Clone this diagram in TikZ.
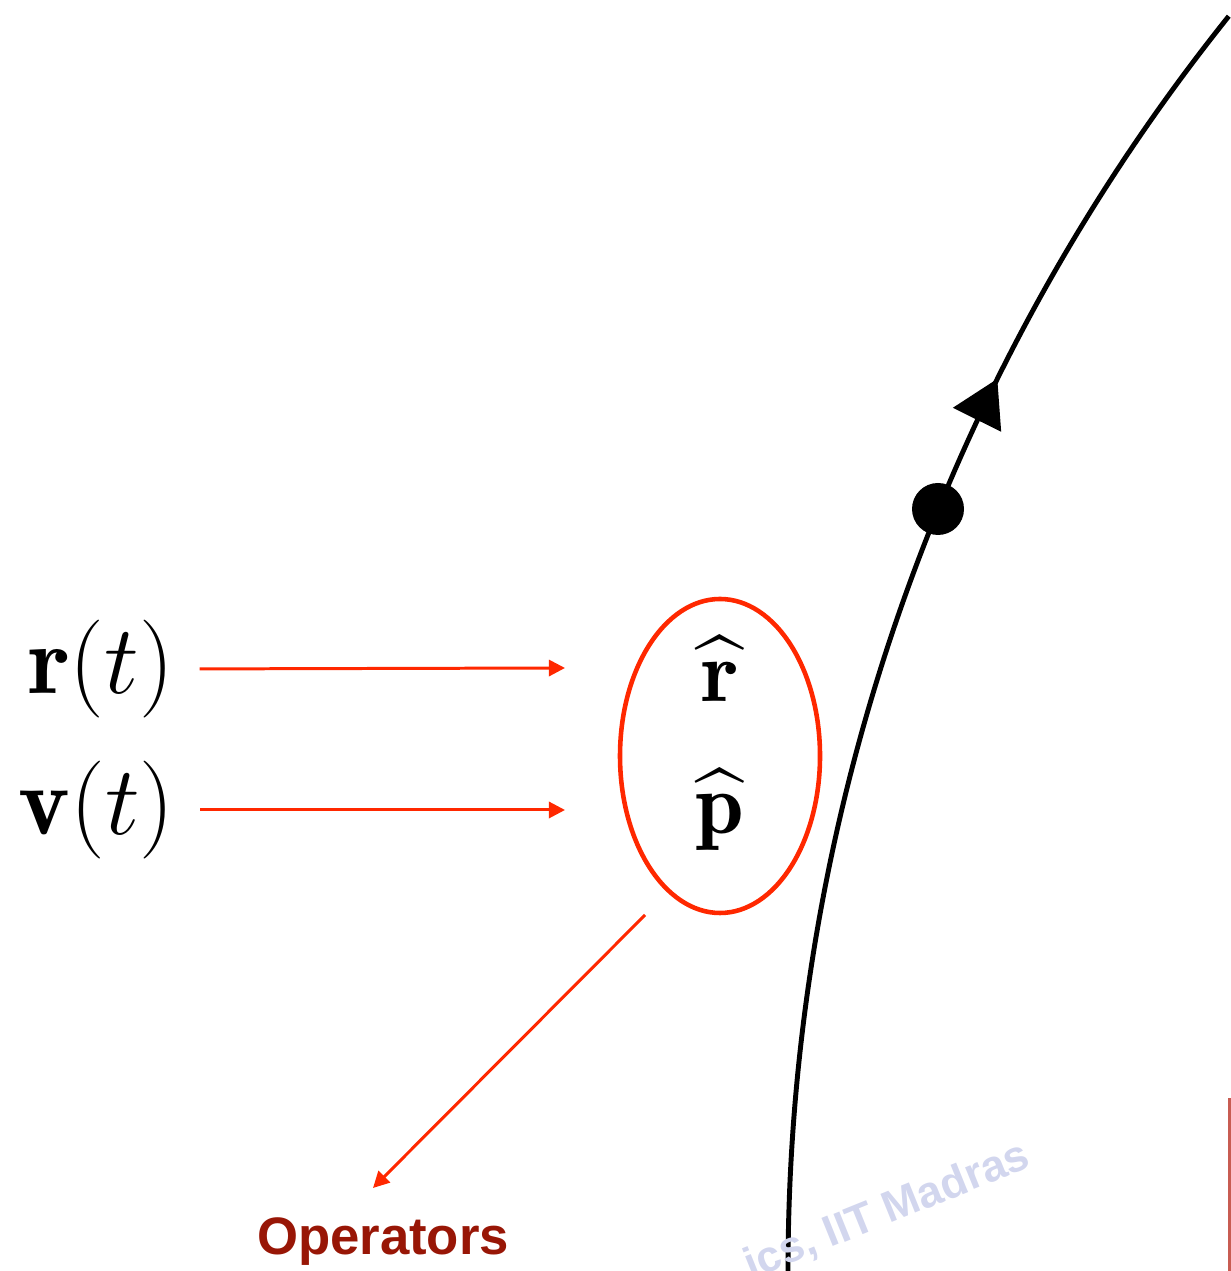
\documentclass[tikz,border=0pt]{standalone}
\usepackage{amsmath,amssymb}
\usepackage{fontspec}
\newfontfamily\labelfont{Liberation Sans}
\usepackage{tikz}
\usetikzlibrary{arrows.meta,positioning,calc,decorations.markings,shapes.geometric}
\definecolor{opred}{RGB}{255,40,0}
\definecolor{oplabel}{RGB}{152,22,6}
\definecolor{wmark}{RGB}{210,214,238}
\definecolor{edgered}{RGB}{200,92,82}
\tikzset{
  maparrow/.style={-{Triangle[length=4.6pt,width=4.6pt]},draw=opred,line width=0.85pt},
  traj/.style={line width=1.4pt,postaction={decorate},decoration={markings,
    mark=at position 0.682 with {\arrow{Triangle[length=13pt,width=15pt]}}}},
  bigmath/.style={inner sep=0pt,font=\Huge,scale=1.12},
  hatmath/.style={inner sep=0pt,font=\Huge},
}
\begin{document}
\begin{tikzpicture}
\clip (0,0) rectangle (12.31,12.71);
\draw[traj] (7.88,0) arc (180:141.3:20.07);
\fill (9.38,7.62) circle (0.26);
\node[bigmath] (rt) at (1.01,6.02) {$\mathbf{r}(t)$};
\node[bigmath] (vt) at (0.965,4.61) {$\mathbf{v}(t)$};
\node[draw=opred,line width=1.3pt,ellipse,minimum width=2.0cm,minimum height=3.14cm] (ops) at (7.20,5.15) {};
\node[hatmath] (rhat) at (7.20,6.02) {$\widehat{\mathbf{r}}$};
\node[hatmath] (phat) at (7.20,4.61) {$\widehat{\mathbf{p}}$};
\coordinate (rin) at (5.65,6.03);
\coordinate (vin) at (5.65,4.61);
\coordinate (opfoot) at (6.45,3.56);
\coordinate (optip) at (3.73,0.83);
\draw[maparrow,shorten <=0.25cm] (rt.east) -- (rin);
\draw[maparrow,shorten <=0.25cm] (vt.east) -- (vin);
\draw[maparrow] (opfoot) -- (optip);
\node[anchor=base,text=oplabel,font=\labelfont\bfseries\fontsize{15}{18}\selectfont] (oplbl) at (3.83,0.16) {Operators};
\node[anchor=base east,rotate=22,inner sep=0pt,text=wmark,font=\labelfont\bfseries\fontsize{12.5}{14}\selectfont] (wm) at (10.33,1.05) {ics, IIT Madras};
\draw[edgered,line width=0.6pt] (12.295,0) -- (12.295,1.73);
\end{tikzpicture}
\end{document}
